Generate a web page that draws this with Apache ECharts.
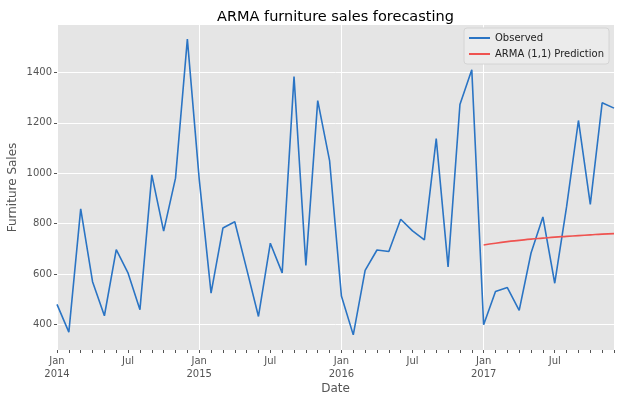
<!DOCTYPE html>
<html>
<head>
<meta charset="utf-8">
<script src="https://cdn.jsdelivr.net/npm/echarts@6/dist/echarts.min.js"></script>
<style>
  html, body { margin: 0; padding: 0; background: #fff; }
  #chart { width: 625px; height: 403px; }
</style>
</head>
<body>
<div id="chart"></div>
<script>
// monthly dates, Jan 2014 .. Dec 2017
const years = [2014, 2015, 2016, 2017];
const monthNames = ['Jan','Feb','Mar','Apr','May','Jun','Jul','Aug','Sep','Oct','Nov','Dec'];
const months = [];
years.forEach(y => monthNames.forEach(m => months.push(m + ' ' + y)));

// observed furniture sales
const observed = [
  479, 369, 858, 569, 434, 696, 603, 458, 993, 770, 980, 1532,
  976, 524, 782, 807, 620, 431, 722, 604, 1383, 634, 1288, 1050,
  512, 358, 614, 695, 689, 817, 771, 735, 1137, 628, 1272, 1410,
  398, 530, 546, 455, 683, 826, 563, 867, 1209, 876, 1279, 1258
];

// ARMA (1,1) prediction for 2017
const prediction = [715, 722, 728, 733, 738, 742, 746, 749, 752, 755, 758, 760];
const predSeries = new Array(36).fill(null).concat(prediction);

const yTicks = [400, 600, 800, 1000, 1200, 1400];

const chart = echarts.init(document.getElementById('chart'));
const tickColor = '#555';
chart.setOption({
  animation: false,
  backgroundColor: '#fff',
  textStyle: { fontFamily: 'DejaVu Sans' },
  title: {
    text: 'ARMA furniture sales forecasting',
    left: 212, top: 5,
    textStyle: { fontSize: 14.5, fontWeight: 'normal', color: '#000', fontFamily: 'DejaVu Sans' }
  },
  legend: {
    orient: 'vertical',
    right: 16, top: 28,
    itemWidth: 21, itemHeight: 2, itemGap: 6,
    padding: [5, 5, 5, 5],
    backgroundColor: '#ebebeb',
    borderColor: '#d4d4d4', borderWidth: 1, borderRadius: 3,
    textStyle: { fontSize: 10, color: '#222' },
    data: [
      { name: 'Observed', icon: 'rect' },
      { name: 'ARMA (1,1) Prediction', icon: 'rect' }
    ]
  },
  grid: {
    left: 57, right: 11, top: 25, bottom: 53,
    outerBoundsMode: 'none', containLabel: false,
    backgroundColor: '#e5e5e5', show: true, borderWidth: 0
  },
  xAxis: {
    type: 'category',
    data: months,
    boundaryGap: false,
    name: 'Date',
    nameLocation: 'middle',
    nameGap: 33,
    nameMoveOverlap: false,
    nameTextStyle: { fontSize: 12, color: tickColor },
    axisLine: { show: false },
    axisTick: { show: true, interval: 0, length: 3, lineStyle: { color: tickColor } },
    axisLabel: {
      interval: i => i % 6 === 0,
      formatter: (v, i) => {
        const [m, y] = v.split(' ');
        return m === 'Jan' ? m + '\n' + y : m;
      },
      fontSize: 10, color: tickColor, margin: 5, lineHeight: 13
    },
    splitLine: { show: true, interval: i => i % 12 === 0, lineStyle: { color: '#fff', width: 1 } }
  },
  yAxis: {
    type: 'value',
    min: 298, max: 1588,
    name: 'Furniture Sales',
    nameLocation: 'middle',
    nameGap: 38,
    nameMoveOverlap: false,
    nameTextStyle: { fontSize: 12, color: tickColor },
    axisLine: { show: false },
    axisTick: { show: true, length: 3, customValues: yTicks, lineStyle: { color: tickColor } },
    axisLabel: { customValues: yTicks, formatter: v => String(v), fontSize: 10, color: tickColor, margin: 5 },
    splitLine: { show: true, lineStyle: { color: '#fff', width: 1 } }
  },
  series: [
    {
      name: 'Observed', type: 'line', data: observed,
      symbol: 'none', color: '#2a74c4',
      lineStyle: { width: 1.6, color: '#2a74c4' }
    },
    {
      name: 'ARMA (1,1) Prediction', type: 'line', data: predSeries,
      symbol: 'none', color: '#ef5350', smooth: true,
      lineStyle: { width: 1.6, color: '#ef5350' }
    }
  ]
});
</script>
</body>
</html>
